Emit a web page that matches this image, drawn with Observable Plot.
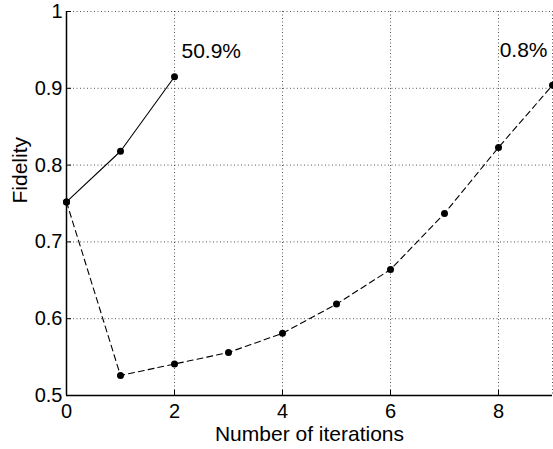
<!DOCTYPE html>
<html><head><meta charset="utf-8">
<script src="https://cdn.jsdelivr.net/npm/d3@7"></script>
<script src="https://cdn.jsdelivr.net/npm/@observablehq/plot@0.6"></script>
<style>html,body{margin:0;padding:0;background:#fff} svg{display:block}</style>
</head><body><div id="chart"></div>
<script>
const solidIterations = [0, 1, 2];
const solidFidelity = [0.752, 0.818, 0.915];
const dashedIterations = [0, 1, 2, 3, 4, 5, 6, 7, 8, 9];
const dashedFidelity = [0.752, 0.526, 0.541, 0.556, 0.581, 0.619, 0.664, 0.737, 0.823, 0.904];
const xTicks = [0, 2, 4, 6, 8];
const xGrid = [0, 2, 4, 6, 8, 9];
const yTicks = [0.5, 0.6, 0.7, 0.8, 0.9, 1];
const annotationLabels = ["50.9%", "0.8%"];

const solid = solidIterations.map((x, i) => ({x, y: solidFidelity[i]}));
const dashed = dashedIterations.map((x, i) => ({x, y: dashedFidelity[i]}));
const annoStart = [{x: solid[solid.length - 1].x, y: solid[solid.length - 1].y, label: annotationLabels[0]}];
const annoEnd = [{x: dashed[dashed.length - 1].x, y: dashed[dashed.length - 1].y, label: annotationLabels[1]}];

const font = "'Liberation Sans', Arial, Helvetica, sans-serif";

const chart = Plot.plot({
  width: 553,
  height: 449,
  marginLeft: 66,
  marginRight: 1,
  marginTop: 11,
  marginBottom: 54,
  style: {fontFamily: font, fontSize: "20px", color: "#000", background: "#fff", overflow: "visible"},
  x: {domain: [0, 9], label: null},
  y: {domain: [0.5, 1], label: null},
  marks: [
    Plot.ruleX(xGrid, {stroke: "#000", strokeWidth: 0.9, strokeDasharray: "1,2.5", strokeOpacity: 0.75}),
    Plot.ruleY(yTicks, {stroke: "#000", strokeWidth: 0.9, strokeDasharray: "1,2.5", strokeOpacity: 0.75}),
    Plot.ruleX([0], {stroke: "#000", strokeWidth: 1.5}),
    Plot.ruleY([0.5], {stroke: "#000", strokeWidth: 1.5}),
    Plot.axisX(xTicks, {anchor: "bottom", tickSize: 5, dy: -5, tickFormat: () => "", stroke: "#000", label: null}),
    Plot.axisY(yTicks, {anchor: "left", tickSize: 5, dx: 5, tickFormat: () => "", stroke: "#000", label: null}),
    Plot.axisX(xTicks, {anchor: "bottom", tickSize: 0, tickPadding: 8, fontSize: 20, label: null}),
    Plot.axisY(yTicks, {anchor: "left", tickSize: 0, tickPadding: 4, fontSize: 20, label: null, tickFormat: d3.format("~g")}),
    Plot.line(solid, {x: "x", y: "y", stroke: "#000", strokeWidth: 1.1}),
    Plot.line(dashed, {x: "x", y: "y", stroke: "#000", strokeWidth: 1.1, strokeDasharray: "6,4"}),
    Plot.dot(solid, {x: "x", y: "y", r: 3.5, fill: "#000"}),
    Plot.dot(dashed, {x: "x", y: "y", r: 3.5, fill: "#000"}),
    Plot.text(annoStart, {x: "x", y: "y", text: "label", textAnchor: "start", dx: 7, dy: -26, fontSize: 21, fill: "#000"}),
    Plot.text(annoEnd, {x: "x", y: "y", text: "label", textAnchor: "end", dx: -5, dy: -35, fontSize: 21, fill: "#000"}),
    Plot.text(["Number of iterations"], {frameAnchor: "bottom", dy: 45, fontSize: 21, fill: "#000"}),
    Plot.text(["Fidelity"], {frameAnchor: "left", rotate: -90, dx: -46, fontSize: 21, fill: "#000"})
  ]
});
document.getElementById("chart").appendChild(chart);
</script>
</body></html>
